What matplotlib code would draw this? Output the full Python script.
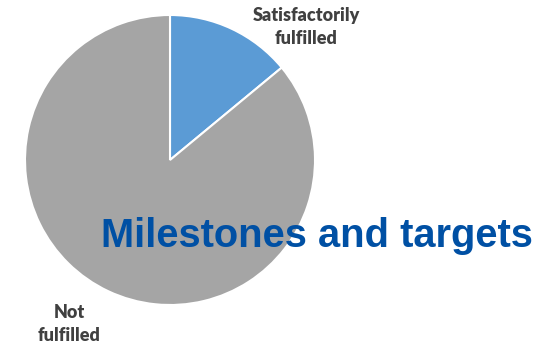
import matplotlib.pyplot as plt

categories = ['Satisfactorily\nfulfilled', 'Not\nfulfilled']
shares = [14, 86]
colors = ['#5b9bd5', '#a5a5a5']

fig = plt.figure(figsize=(5.56, 3.46), dpi=100)
ax = fig.add_axes([25 / 556, 41 / 346, 290 / 556, 290 / 346])
ax.pie(shares, colors=colors, startangle=90, counterclock=False,
       radius=1, wedgeprops={'edgecolor': 'white', 'linewidth': 1.5})
ax.set_xlim(-1, 1)
ax.set_ylim(-1, 1)
ax.set_aspect('equal')

# labels outside the slices
fig.text(306 / 556, 1 - 27 / 346, categories[0], ha='center', va='center',
         fontsize=13, fontweight='heavy', color='#404040', family='Lato',
         linespacing=1.4)
fig.text(69 / 556, 1 - 324 / 346, categories[1], ha='center', va='center',
         fontsize=13, fontweight='heavy', color='#404040', family='Lato',
         linespacing=1.4)

fig.text(317 / 556, 1 - 236 / 346, 'Milestones and targets', ha='center',
         va='center', fontsize=28.7, fontweight='bold', color='#0050a4',
         family='Liberation Sans')

fig.savefig('out.png', dpi=100)
